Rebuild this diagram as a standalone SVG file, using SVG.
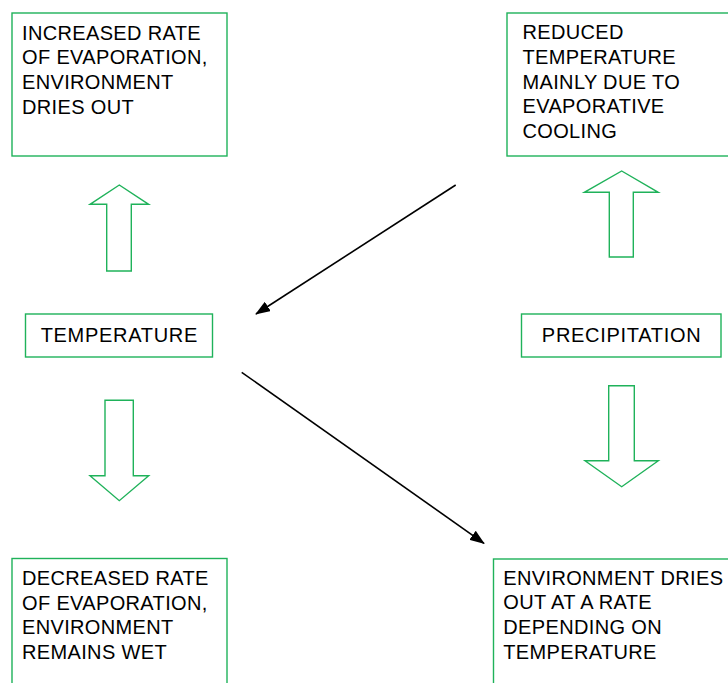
<svg xmlns="http://www.w3.org/2000/svg" width="728" height="683" viewBox="0 0 728 683">
<defs>
<style>
.box{fill:#fff;stroke:#1fb25a;stroke-width:1.4}
.ga{fill:#fff;stroke:#1fb25a;stroke-width:1.4;stroke-linejoin:miter}
.t{font-family:"Liberation Sans",Arial,sans-serif;font-size:20px;fill:#000;letter-spacing:0.35px}
.s{letter-spacing:0.7px}
.c{stroke:#000;stroke-width:1.6;fill:none}
</style>
<marker id="ah" viewBox="0 0 15 11" refX="14" refY="5.5" markerWidth="15" markerHeight="11" markerUnits="userSpaceOnUse" orient="auto">
<path d="M0,0 L15,5.5 L0,11 Z" fill="#000"/>
</marker>
</defs>
<rect width="728" height="683" fill="#fff"/>
<g id="n-increased">
<rect class="box" x="12" y="13" width="215" height="143"/>
<text class="t" x="22" y="39.5">INCREASED RATE</text>
<text class="t" x="22" y="64">OF EVAPORATION,</text>
<text class="t" x="22" y="89">ENVIRONMENT</text>
<text class="t" x="22" y="113.5">DRIES OUT</text>
</g>
<g id="n-reduced">
<rect class="box" x="507" y="13" width="230" height="143"/>
<text class="t" x="522.5" y="39">REDUCED</text>
<text class="t" x="522.5" y="64">TEMPERATURE</text>
<text class="t" x="522.5" y="88.5">MAINLY DUE TO</text>
<text class="t" x="522.5" y="113">EVAPORATIVE</text>
<text class="t" x="522.5" y="138">COOLING</text>
</g>
<g id="n-temperature">
<rect class="box" x="25.5" y="314" width="187" height="43"/>
<text class="t s" x="119.3" y="341.7" text-anchor="middle">TEMPERATURE</text>
</g>
<g id="n-precipitation">
<rect class="box" x="521.5" y="314" width="199.5" height="43"/>
<text class="t s" x="621.6" y="341.7" text-anchor="middle">PRECIPITATION</text>
</g>
<g id="n-decreased">
<rect class="box" x="12" y="558.5" width="215" height="140"/>
<text class="t" x="22" y="585">DECREASED RATE</text>
<text class="t" x="22" y="609.5">OF EVAPORATION,</text>
<text class="t" x="22" y="634">ENVIRONMENT</text>
<text class="t" x="22" y="658.5">REMAINS WET</text>
</g>
<g id="n-dries">
<rect class="box" x="493.5" y="559" width="250" height="140"/>
<text class="t" x="503.3" y="584.5">ENVIRONMENT DRIES</text>
<text class="t" x="503.3" y="609">OUT AT A RATE</text>
<text class="t" x="503.3" y="634">DEPENDING ON</text>
<text class="t" x="503.3" y="659">TEMPERATURE</text>
</g>
<g id="arrow-up-left">
<polygon class="ga" points="119.3,185 148.7,204.3 131.3,204.3 131.3,271 106.7,271 106.7,204.3 90,204.3"/>
</g>
<g id="arrow-up-right">
<polygon class="ga" points="621.7,171 658.3,192.3 633.3,192.3 633.3,257 609.3,257 609.3,192.3 584.3,192.3"/>
</g>
<g id="arrow-down-left">
<polygon class="ga" points="105,400.3 133.3,400.3 133.3,475.7 148.7,475.7 119.3,500.7 90,475.7 105,475.7"/>
</g>
<g id="arrow-down-right">
<polygon class="ga" points="608.7,385.7 634.3,385.7 634.3,460.7 658.3,460.7 621.7,486.7 585,460.7 608.7,460.7"/>
</g>
<g id="connectors">
<line class="c" x1="455.7" y1="185" x2="256" y2="314" marker-end="url(#ah)"/>
<line class="c" x1="241.7" y1="372.3" x2="484" y2="543.3" marker-end="url(#ah)"/>
</g>
</svg>
